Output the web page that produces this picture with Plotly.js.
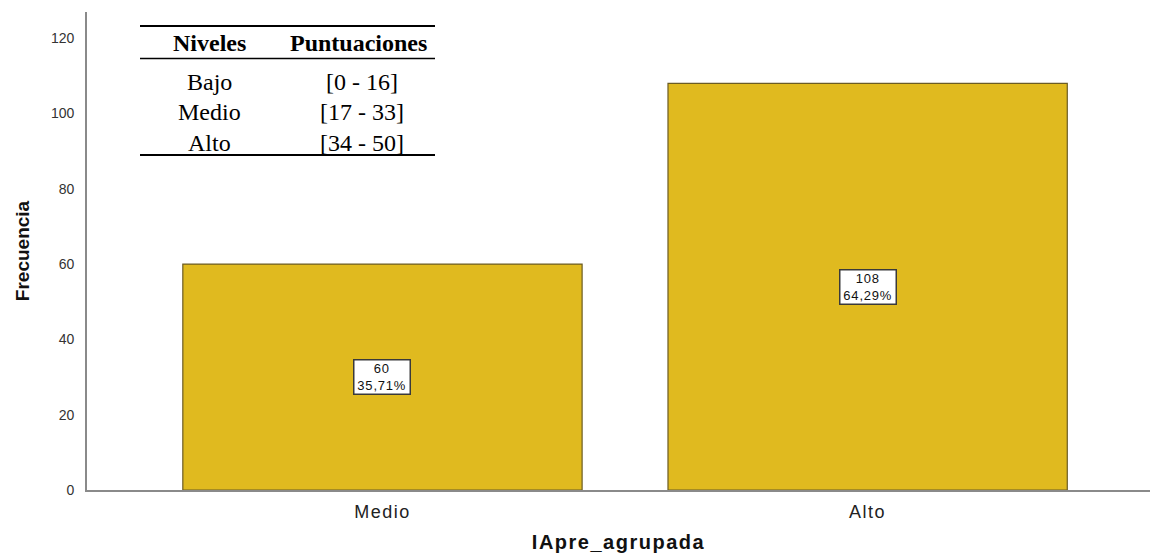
<!DOCTYPE html>
<html>
<head>
<meta charset="utf-8">
<script src="https://cdn.plot.ly/plotly-3.0.1.min.js"></script>
<style>
html,body{margin:0;padding:0;background:#fff;}
#chart{width:1150px;height:556px;}
.xtick text{letter-spacing:1.5px;}
.g-xtitle text{letter-spacing:1.5px;}
.annotation[data-index="0"] text, .annotation[data-index="1"] text{letter-spacing:0.8px;}
</style>
</head>
<body>
<div id="chart"></div>
<script>
const categories = ["Medio", "Alto"];
const counts = [60, 108];
const percents = ["35,71%", "64,29%"];
const tableHeaders = ["Niveles", "Puntuaciones"];
const tableLevels = ["Bajo", "Medio", "Alto"];
const tableRanges = ["[0 - 16]", "[17 - 33]", "[34 - 50]"];

const L = 87, T = 12, W = 1150 - L, H = 490 - T;
const px = x => (x - L) / W;
const py = y => (490 - y) / H;

const annotations = [];
categories.forEach((c, i) => {
  annotations.push({
    x: i, y: counts[i] / 2, xref: 'x', yref: 'y',
    text: counts[i] + '<br>' + percents[i],
    showarrow: false, bgcolor: '#ffffff', bordercolor: '#3a3a3a', borderwidth: 1.5,
    borderpad: 1, width: 53, height: 31, align: 'center', valign: 'middle',
    xanchor: 'center', yanchor: 'middle',
    font: {family: 'Arial, Liberation Sans, sans-serif', size: 13, color: '#111'}
  });
});
const serif = 'Liberation Serif, Times New Roman, serif';
const colX = [209.5, 358];
tableHeaders.forEach((h, j) => {
  annotations.push({x: px(colX[j]), y: py(43), xref: 'paper', yref: 'paper', xanchor: 'center', yanchor: 'middle',
    text: '<b>' + h + '</b>', showarrow: false, font: {family: serif, size: 24, color: '#000'}});
});
const rowY = [81.5, 112.5, 143];
tableLevels.forEach((lv, i) => {
  annotations.push({x: px(colX[0]), y: py(rowY[i]), xref: 'paper', yref: 'paper', xanchor: 'center', yanchor: 'middle',
    text: lv, showarrow: false, font: {family: serif, size: 24, color: '#000'}});
  annotations.push({x: px(362), y: py(rowY[i]), xref: 'paper', yref: 'paper', xanchor: 'center', yanchor: 'middle',
    text: tableRanges[i], showarrow: false, font: {family: serif, size: 24, color: '#000'}});
});

const shapes = [
  {type: 'line', xref: 'paper', yref: 'paper', x0: px(140), x1: px(435), y0: py(26), y1: py(26), line: {color: '#000', width: 2}},
  {type: 'line', xref: 'paper', yref: 'paper', x0: px(140), x1: px(435), y0: py(58.5), y1: py(58.5), line: {color: '#000', width: 1.5}},
  {type: 'line', xref: 'paper', yref: 'paper', x0: px(140), x1: px(435), y0: py(155), y1: py(155), line: {color: '#000', width: 2}}
];

const trace = {
  type: 'bar', x: [0, 1], y: counts, width: 0.823,
  marker: {color: '#E0BA1F', line: {color: '#6b5c24', width: 1.2}},
  hoverinfo: 'skip'
};

const layout = {
  width: 1150, height: 556,
  margin: {l: L, r: 0, t: T, b: 556 - 490},
  paper_bgcolor: '#fff', plot_bgcolor: '#fff',
  showlegend: false,
  font: {family: 'Arial, Liberation Sans, sans-serif'},
  xaxis: {
    range: [-0.609, 1.582], tickmode: 'array', tickvals: [0, 1], ticktext: categories,
    showgrid: false, zeroline: false, showline: true, linecolor: '#8a8a8a', linewidth: 1.8,
    ticks: '', ticklabelstandoff: 5,
    tickfont: {size: 18, color: '#222'},
    title: {text: '<b>IApre_agrupada</b>', font: {size: 20, color: '#111'}, standoff: 13}
  },
  yaxis: {
    range: [0, 126.96], tickvals: [0, 20, 40, 60, 80, 100, 120],
    showgrid: false, zeroline: false, showline: true, linecolor: '#8a8a8a', linewidth: 1.8,
    ticks: '', ticklabelstandoff: 8,
    tickfont: {size: 14, color: '#333'},
    title: {text: '<b>Frecuencia</b>', font: {size: 19, color: '#111'}, standoff: 16}
  },
  annotations: annotations,
  shapes: shapes
};

Plotly.newPlot('chart', [trace], layout, {displayModeBar: false, staticPlot: true});
</script>
</body>
</html>
